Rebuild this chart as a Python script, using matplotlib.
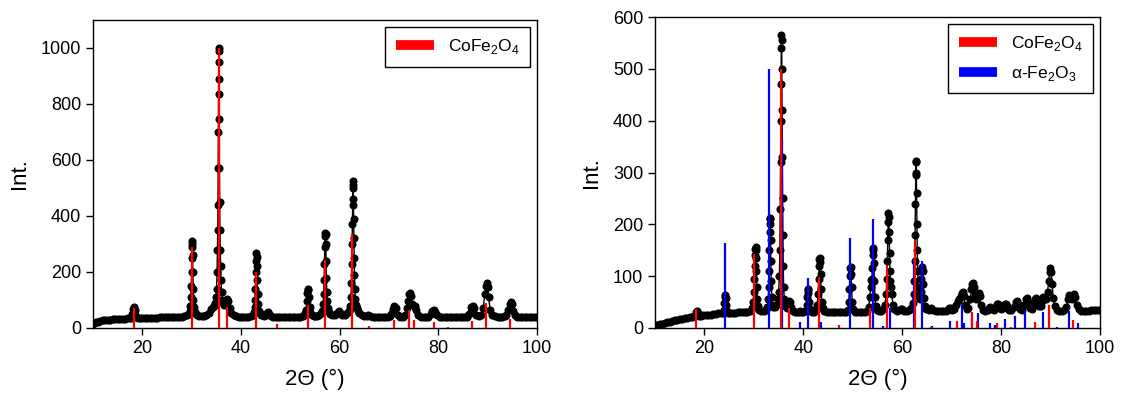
import matplotlib
matplotlib.use('Agg')
import matplotlib.pyplot as plt
from matplotlib.lines import Line2D

plt.rcParams['font.family'] = ['Liberation Sans', 'DejaVu Sans']
plt.rcParams['mathtext.fontset'] = 'custom'
plt.rcParams['mathtext.rm'] = 'Liberation Sans'

# measured pattern, CoFe2O4 sample: (2theta, counts)
cfo_scan = [
    (10.0, 15), (10.3, 19), (10.6, 21), (11.0, 23), (11.5, 25), (12.0, 27), (12.5, 28),
    (13.0, 29), (13.5, 30), (14.0, 31), (14.5, 31), (15.0, 32), (15.5, 32), (16.0, 33),
    (16.5, 33), (17.0, 34), (17.4, 34), (17.8, 37), (18.0, 50), (18.15, 68), (18.3, 75),
    (18.45, 66), (18.6, 48), (18.8, 38), (19.2, 35), (19.6, 35), (20.0, 36), (20.5, 36),
    (21.0, 36), (21.5, 37), (22.0, 37), (22.5, 37), (23.0, 37), (23.5, 38), (24.0, 38),
    (24.5, 38), (25.0, 38), (25.5, 38), (26.0, 38), (26.5, 38), (27.0, 39), (27.5, 39),
    (28.0, 40), (28.5, 42), (29.0, 45), (29.4, 50), (29.6, 60), (29.75, 80), (29.85, 110),
    (29.92, 150), (29.97, 200), (30.02, 250), (30.06, 290), (30.1, 310), (30.14, 300),
    (30.18, 260), (30.23, 200), (30.28, 140), (30.35, 100), (30.45, 75), (30.6, 58),
    (30.8, 50), (31.0, 47), (31.5, 43), (32.0, 42), (32.5, 43), (33.0, 46), (33.5, 55),
    (34.0, 68), (34.3, 75), (34.6, 80), (34.8, 90), (34.95, 110), (35.05, 140),
    (35.15, 200), (35.22, 280), (35.28, 350), (35.33, 440), (35.37, 570), (35.41, 700),
    (35.44, 835), (35.47, 950), (35.5, 1000), (35.53, 990), (35.56, 890), (35.59, 745),
    (35.63, 570), (35.68, 450), (35.73, 350), (35.8, 280), (35.87, 220), (35.95, 170),
    (36.05, 130), (36.2, 100), (36.35, 88), (36.6, 82), (36.8, 90), (37.0, 100),
    (37.2, 103), (37.4, 95), (37.7, 70), (38.0, 55), (38.5, 45), (39.0, 42), (39.5, 40),
    (40.0, 40), (40.5, 40), (41.0, 40), (41.5, 41), (42.0, 44), (42.4, 48), (42.6, 58),
    (42.75, 75), (42.85, 100), (42.93, 140), (43.0, 200), (43.05, 240), (43.1, 268),
    (43.15, 255), (43.2, 220), (43.27, 170), (43.35, 120), (43.45, 85), (43.6, 62),
    (43.8, 52), (44.1, 46), (44.6, 43), (45.0, 45), (45.3, 55), (45.5, 57), (45.7, 50),
    (46.0, 42), (46.5, 40), (47.0, 40), (47.5, 40), (48.0, 40), (48.5, 40), (49.0, 40),
    (49.5, 40), (50.0, 40), (50.5, 40), (51.0, 40), (51.5, 40), (52.0, 40), (52.5, 42),
    (52.8, 46), (53.0, 52), (53.2, 65), (53.35, 95), (53.45, 125), (53.55, 139),
    (53.65, 135), (53.75, 110), (53.9, 75), (54.05, 58), (54.3, 48), (54.7, 43),
    (55.1, 42), (55.5, 43), (55.9, 47), (56.3, 52), (56.5, 62), (56.65, 85), (56.75, 120),
    (56.85, 170), (56.92, 230), (56.98, 290), (57.03, 330), (57.08, 341), (57.13, 335),
    (57.18, 300), (57.24, 240), (57.3, 180), (57.38, 130), (57.48, 95), (57.6, 72),
    (57.8, 58), (58.1, 50), (58.5, 46), (59.0, 46), (59.5, 55), (59.8, 60), (60.1, 55),
    (60.5, 47), (61.0, 47), (61.5, 52), (61.8, 60), (62.0, 68), (62.15, 80), (62.28, 110),
    (62.38, 160), (62.46, 230), (62.52, 300), (62.57, 370), (62.62, 440), (62.66, 500),
    (62.7, 524), (62.74, 510), (62.78, 460), (62.83, 390), (62.88, 320), (62.94, 250),
    (63.0, 190), (63.08, 140), (63.18, 105), (63.32, 82), (63.45, 72), (63.7, 60),
    (64.0, 52), (64.5, 45), (65.0, 43), (65.5, 44), (65.8, 48), (66.2, 44), (66.7, 41),
    (67.2, 40), (67.7, 40), (68.2, 40), (68.7, 40), (69.2, 40), (69.7, 41), (70.2, 44),
    (70.5, 50), (70.8, 68), (71.1, 80), (71.4, 70), (71.8, 48), (72.3, 41), (72.8, 40),
    (73.3, 45), (73.6, 70), (73.8, 95), (74.0, 120), (74.2, 125), (74.4, 115), (74.7, 85),
    (75.0, 78), (75.2, 80), (75.5, 65), (75.9, 45), (76.5, 40), (77.0, 40), (77.5, 40),
    (78.0, 41), (78.5, 50), (78.8, 62), (79.1, 65), (79.4, 58), (79.8, 45), (80.3, 41),
    (80.8, 40), (81.3, 40), (81.8, 40), (82.3, 40), (82.8, 40), (83.3, 40), (83.8, 40),
    (84.3, 40), (84.8, 40), (85.3, 40), (85.8, 41), (86.1, 45), (86.4, 55), (86.7, 75),
    (87.0, 80), (87.3, 70), (87.7, 48), (88.2, 42), (88.7, 45), (89.1, 70), (89.4, 120),
    (89.6, 150), (89.8, 160), (90.0, 145), (90.2, 110), (90.5, 65), (90.9, 47),
    (91.5, 42), (92.0, 41), (92.5, 40), (93.0, 40), (93.5, 42), (93.8, 45), (94.2, 65),
    (94.5, 85), (94.7, 92), (94.9, 85), (95.2, 60), (95.6, 45), (96.0, 41), (96.5, 40),
    (97.0, 40), (97.5, 40), (98.0, 40), (98.5, 40), (99.0, 40), (99.5, 40), (100.0, 40),
]

# measured pattern, CoFe2O4 + hematite sample
mix_scan = [
    (10.0, 4), (10.3, 5), (10.6, 6), (11.0, 7), (11.5, 8), (12.0, 9), (12.5, 11),
    (13.0, 12), (13.5, 13), (14.0, 15), (14.5, 16), (15.0, 17), (15.5, 18), (16.0, 19),
    (16.5, 20), (17.0, 21), (17.5, 22), (17.9, 24), (18.2, 30), (18.4, 33), (18.6, 29),
    (18.9, 24), (19.3, 24), (19.8, 25), (20.3, 25), (20.8, 26), (21.3, 26), (21.8, 27),
    (22.3, 27), (22.8, 28), (23.3, 28), (23.7, 29), (23.95, 35), (24.05, 48), (24.15, 60),
    (24.22, 64), (24.3, 58), (24.4, 44), (24.55, 33), (24.8, 29), (25.2, 29), (25.7, 29),
    (26.2, 29), (26.7, 30), (27.2, 30), (27.7, 30), (28.2, 30), (28.7, 31), (29.2, 33),
    (29.6, 38), (29.85, 50), (30.0, 70), (30.1, 95), (30.17, 120), (30.23, 140),
    (30.28, 153), (30.33, 156), (30.38, 150), (30.43, 135), (30.5, 110), (30.58, 80),
    (30.7, 55), (30.85, 42), (31.1, 35), (31.5, 32), (32.0, 32), (32.4, 34), (32.7, 40),
    (32.9, 55), (33.0, 80), (33.08, 110), (33.14, 150), (33.19, 185), (33.23, 210),
    (33.27, 213), (33.31, 200), (33.36, 170), (33.42, 130), (33.5, 90), (33.6, 60),
    (33.75, 45), (33.95, 40), (34.2, 40), (34.5, 45), (34.8, 55), (35.0, 70), (35.15, 100),
    (35.25, 150), (35.33, 230), (35.4, 320), (35.45, 400), (35.5, 470), (35.54, 540),
    (35.58, 565), (35.62, 555), (35.66, 500), (35.7, 420), (35.75, 330), (35.8, 250),
    (35.86, 180), (35.93, 120), (36.02, 80), (36.15, 55), (36.35, 42), (36.6, 38),
    (36.9, 45), (37.1, 52), (37.3, 50), (37.55, 40), (37.9, 33), (38.3, 30), (38.8, 30),
    (39.1, 31), (39.35, 33), (39.6, 30), (40.0, 30), (40.4, 32), (40.65, 45), (40.78, 60),
    (40.88, 73), (40.95, 75), (41.03, 68), (41.15, 50), (41.35, 36), (41.7, 31),
    (42.1, 31), (42.5, 34), (42.8, 45), (42.98, 65), (43.1, 95), (43.18, 120),
    (43.26, 133), (43.33, 136), (43.4, 128), (43.48, 105), (43.58, 75), (43.72, 50),
    (43.9, 38), (44.2, 32), (44.7, 30), (45.2, 30), (45.7, 30), (46.2, 30), (46.7, 30),
    (47.2, 31), (47.7, 30), (48.2, 30), (48.7, 31), (49.0, 35), (49.2, 50), (49.32, 75),
    (49.42, 100), (49.5, 115), (49.57, 117), (49.65, 105), (49.75, 80), (49.88, 50),
    (50.05, 36), (50.4, 31), (50.9, 30), (51.4, 30), (51.9, 30), (52.4, 31), (52.9, 33),
    (53.2, 40), (53.45, 60), (53.6, 80), (53.75, 92), (53.87, 95), (53.95, 115),
    (54.03, 140), (54.1, 155), (54.17, 150), (54.25, 125), (54.35, 90), (54.48, 60),
    (54.65, 42), (54.9, 35), (55.3, 33), (55.8, 33), (56.2, 36), (56.5, 45), (56.75, 65),
    (56.9, 95), (57.0, 130), (57.08, 170), (57.15, 205), (57.22, 222), (57.29, 215),
    (57.36, 185), (57.43, 145), (57.52, 110), (57.62, 90), (57.75, 80), (57.9, 65),
    (58.1, 45), (58.4, 36), (58.9, 33), (59.4, 34), (59.7, 37), (60.0, 36), (60.4, 33),
    (60.9, 33), (61.4, 34), (61.8, 38), (62.1, 48), (62.3, 65), (62.42, 90), (62.52, 130),
    (62.6, 180), (62.66, 240), (62.71, 295), (62.76, 320), (62.81, 323), (62.86, 300),
    (62.91, 260), (62.97, 200), (63.04, 150), (63.12, 110), (63.22, 80), (63.35, 60),
    (63.5, 55), (63.7, 70), (63.85, 95), (63.95, 112), (64.05, 118), (64.15, 110),
    (64.27, 85), (64.4, 58), (64.6, 42), (64.9, 36), (65.4, 34), (65.9, 38), (66.3, 35),
    (66.8, 33), (67.3, 33), (67.8, 33), (68.3, 33), (68.8, 33), (69.2, 35), (69.5, 38),
    (69.8, 38), (70.1, 35), (70.5, 36), (70.9, 45), (71.2, 52), (71.5, 55), (71.8, 62),
    (72.0, 68), (72.2, 70), (72.4, 62), (72.7, 45), (73.0, 36), (73.4, 38), (73.8, 55),
    (74.0, 75), (74.2, 85), (74.35, 87), (74.5, 80), (74.7, 65), (74.9, 55), (75.2, 58),
    (75.45, 67), (75.65, 62), (75.9, 45), (76.3, 35), (76.8, 33), (77.3, 34), (77.6, 38),
    (77.85, 40), (78.1, 37), (78.5, 34), (78.9, 40), (79.15, 46), (79.4, 47), (79.65, 42),
    (80.0, 36), (80.4, 38), (80.75, 46), (81.0, 47), (81.25, 42), (81.6, 35), (82.1, 34),
    (82.6, 40), (82.95, 50), (83.2, 52), (83.45, 46), (83.8, 37), (84.3, 35), (84.7, 45),
    (84.95, 55), (85.15, 57), (85.4, 50), (85.8, 38), (86.2, 36), (86.6, 45), (86.85, 56),
    (87.1, 58), (87.35, 52), (87.7, 42), (88.0, 42), (88.3, 52), (88.55, 60), (88.8, 58),
    (89.1, 55), (89.4, 70), (89.6, 90), (89.8, 108), (89.95, 115), (90.1, 108),
    (90.3, 85), (90.55, 58), (90.85, 42), (91.3, 35), (91.8, 33), (92.3, 33), (92.8, 34),
    (93.2, 40), (93.5, 55), (93.75, 64), (94.0, 62), (94.25, 55), (94.5, 60), (94.75, 65),
    (95.0, 60), (95.3, 45), (95.7, 36), (96.2, 33), (96.7, 33), (97.2, 33), (97.7, 33),
    (98.2, 34), (98.7, 34), (99.2, 34), (99.7, 34), (100.0, 34),
]

# reference lines
cfo_pos = [18.3, 30.1, 35.45, 37.1, 43.1, 47.2, 53.5, 57.0, 62.6, 65.9,
           71.0, 74.1, 75.1, 79.1, 81.9, 86.8, 89.7, 94.6]
cfo_int_a = [71, 289, 1000, 75, 199, 15, 82, 242, 336, 8,
             27, 63, 27, 20, 5, 26, 89, 32]
cfo_int_b = [36, 143, 500, 38, 99, 5, 39, 119, 167, 2,
             13, 30, 13, 9, 2, 11, 44, 15]

hem_pos = [24.15, 33.15, 35.6, 39.3, 40.85, 43.5, 49.45, 54.05, 56.15, 57.6,
           62.45, 64.0, 66.0, 69.6, 72.0, 72.4, 75.4, 77.7, 78.8, 80.7,
           82.9, 84.9, 88.5, 91.4, 93.7, 95.6]
hem_int = [164, 500, 365, 11, 97, 11, 174, 211, 3, 39,
           133, 129, 3, 13, 45, 10, 28, 10, 5, 18,
           24, 32, 30, 2, 32, 10]

RED = '#ff0000'
BLUE = '#0000ff'


def plot_scan(ax, scan):
    tt, counts = zip(*sorted(scan))
    ax.plot(tt, counts, color='black', lw=1.0, marker='o', ms=4.8,
            mec='black', mfc='black', zorder=2)


def add_sticks(ax, pos, heights, color):
    ax.vlines(pos, 0, heights, colors=color, lw=1.6, zorder=3)


def style_axes(ax, ymax, ystep):
    ax.set_xlim(10, 100)
    ax.set_ylim(0, ymax)
    ax.set_xticks([20, 40, 60, 80, 100])
    ax.set_yticks(range(0, ymax + 1 if ymax % ystep == 0 else ymax, ystep))
    ax.tick_params(direction='out', length=5, width=1, labelsize=13,
                   top=False, right=False)
    for s in ax.spines.values():
        s.set_linewidth(1.0)
    ax.set_xlabel('2Θ (°)', fontsize=16, labelpad=9)
    ax.set_ylabel('Int.', fontsize=16, labelpad=8)


def legend_box(ax, entries):
    handles = [Line2D([0], [0], color=c, lw=7, solid_capstyle='butt') for c, _ in entries]
    labels = [t for _, t in entries]
    leg = ax.legend(handles, labels, loc='upper right', fontsize=12.5,
                    handlelength=2.2, handletextpad=0.8, borderpad=0.6,
                    labelspacing=0.6, borderaxespad=0.4, fancybox=False,
                    framealpha=1, edgecolor='black')
    leg.get_frame().set_linewidth(1.0)


fig = plt.figure(figsize=(11.26, 4.03), dpi=100)
ax1 = fig.add_axes([93 / 1126, 75 / 403, 444 / 1126, 308 / 403])
ax2 = fig.add_axes([655 / 1126, 75 / 403, 445 / 1126, 311 / 403])

plot_scan(ax1, cfo_scan)
add_sticks(ax1, cfo_pos, cfo_int_a, RED)
style_axes(ax1, 1100, 200)
legend_box(ax1, [(RED, r'CoFe$_\mathregular{2}$O$_\mathregular{4}$')])

plot_scan(ax2, mix_scan)
add_sticks(ax2, hem_pos, hem_int, BLUE)
add_sticks(ax2, cfo_pos, cfo_int_b, RED)
style_axes(ax2, 600, 100)
legend_box(ax2, [(RED, r'CoFe$_\mathregular{2}$O$_\mathregular{4}$'),
                 (BLUE, r'α-Fe$_\mathregular{2}$O$_\mathregular{3}$')])

fig.savefig('out.png', dpi=100)
